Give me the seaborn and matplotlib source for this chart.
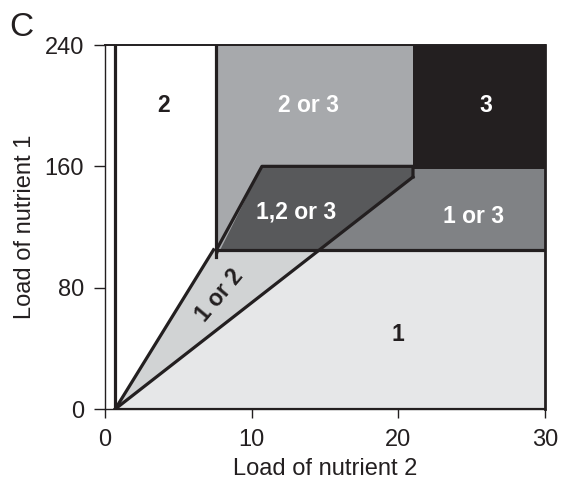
import matplotlib
matplotlib.use("Agg")
import matplotlib.pyplot as plt
import seaborn as sns
import pandas as pd

# region polygons (load of nutrient 2, load of nutrient 1)
r1_x = [0.7, 30, 30, 14.6]
r1_y = [0, 0, 105, 105]
r12_x = [0.7, 14.6, 7.4]
r12_y = [0, 105, 105]
r23_x = [7.6, 21, 21, 7.6]
r23_y = [105, 105, 240, 240]
r123_x = [7.6, 14.6, 21, 21, 10.7, 7.6]
r123_y = [105, 105, 153, 160, 160, 100]
r13_x = [14.6, 30, 30, 21, 21]
r13_y = [105, 105, 158, 158, 153]
r3_x = [21, 30, 30, 21]
r3_y = [158, 158, 240, 240]

# boundary lines
boundaries = [
    ([0.7, 0.7], [0, 240]),
    ([7.6, 7.6], [100, 240]),
    ([0.7, 7.4], [0, 105]),
    ([0.7, 21], [0, 153]),
    ([7.6, 10.7, 21, 21], [105, 160, 160, 153]),
    ([7.6, 30], [105, 105]),
    ([0.7, 30], [0, 0]),
]

labels = ["2", "2 or 3", "3", "1,2 or 3", "1 or 3", "1", "1 or 2"]
label_x = [4.0, 13.9, 26.0, 13.0, 25.1, 20.0, 7.8]
label_y = [200, 200, 200, 130, 127, 49, 75]
label_col = ["#231f20", "white", "white", "white", "white", "#231f20", "#231f20"]
label_rot = [0, 0, 0, 0, 0, 0, 50]

sns.set_style("ticks")
plt.rcParams['font.family'] = ['Liberation Sans', 'DejaVu Sans']

fig = plt.figure(figsize=(5.63, 4.86), dpi=100)
ax = fig.add_axes([0.1865, 0.1584, 0.7815, 0.749])

ax.fill(r1_x, r1_y, color="#e6e7e8", lw=0)
ax.fill(r12_x, r12_y, color="#d1d3d4", lw=0)
ax.fill(r23_x, r23_y, color="#a7a9ac", lw=0)
ax.fill(r123_x, r123_y, color="#58595b", lw=0)
ax.fill(r13_x, r13_y, color="#808285", lw=0)
ax.fill(r3_x, r3_y, color="#231f20", lw=0)

for bx, by in boundaries:
    d = pd.DataFrame({"x": bx, "y": by})
    sns.lineplot(data=d, x="x", y="y", sort=False, estimator=None,
                 color="#231f20", lw=2.3, ax=ax, solid_capstyle="projecting")

for t, x, y, c, r in zip(labels, label_x, label_y, label_col, label_rot):
    ax.text(x, y, t, color=c, fontsize=16.5, fontweight="bold",
            ha="center", va="center", rotation=r, rotation_mode="anchor")

ax.set_xlim(0, 30)
ax.set_ylim(0, 240)
ax.set_xticks([0, 10, 20, 30])
ax.set_yticks([0, 80, 160, 240])
ax.tick_params(labelsize=17, width=1, color="#231f20", labelcolor="#231f20")
ax.tick_params(axis="y", length=8, pad=7)
ax.tick_params(axis="x", length=6.5, pad=8)
ax.set_xlabel("Load of nutrient 2", fontsize=17, color="#231f20", labelpad=5)
ax.set_ylabel("Load of nutrient 1", fontsize=17, color="#231f20", labelpad=6)

for s in ["left", "bottom"]:
    ax.spines[s].set_linewidth(1)
    ax.spines[s].set_color("#231f20")
ax.spines["top"].set_linewidth(1.4)
ax.spines["right"].set_linewidth(2)
for s in ["top", "right"]:
    ax.spines[s].set_visible(True)
    ax.spines[s].set_color("#231f20")

fig.text(0.016, 0.925, "C", fontsize=24, color="#231f20")

fig.savefig("out.png", dpi=100)
